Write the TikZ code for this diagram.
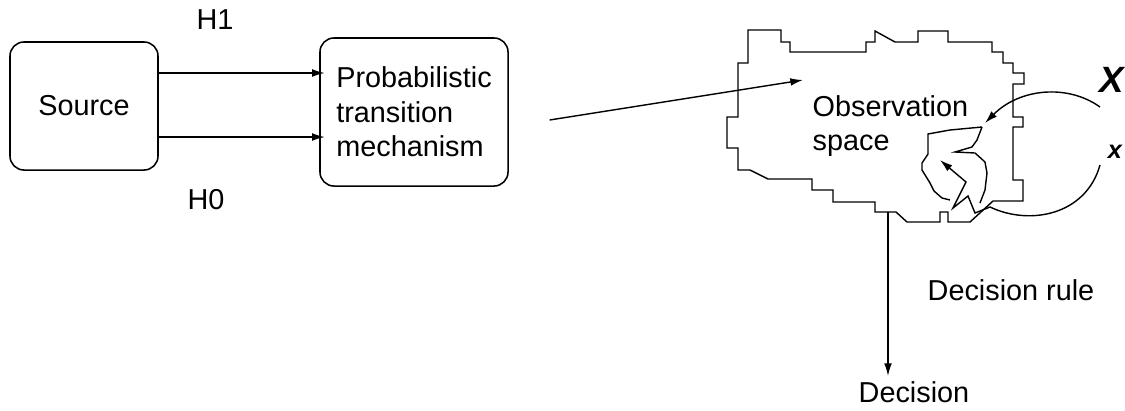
\documentclass[tikz,border=0pt]{standalone}
\usepackage{fontspec}
\setmainfont{Liberation Sans}
\usetikzlibrary{arrows.meta}
\begin{document}
\begin{tikzpicture}[x=0.025cm,y=-0.025cm,line width=1pt,
  every node/.style={font=\fontsize{20.5}{24.5}\selectfont},
  block/.style={draw,rounded corners=0.35cm,line width=1.1pt},
  arr/.style={-{Latex[length=9pt,width=5.5pt]}}]
\useasboundingbox (0,0) rectangle (1125,410);
\node[block,minimum width=3.7cm,minimum height=3.2cm] (src) at (84,106) {Source};
\node[block,minimum width=4.7cm,minimum height=3.7cm,align=left] (ptm) at (414,112) {Probabilistic\\transition\\mechanism};
\draw[arr,shorten >=-4pt] ([yshift=0.825cm]src.east) -- ([yshift=0.825cm]src.east -| ptm.west);
\draw[arr,shorten >=-4pt] ([yshift=-0.775cm]src.east) -- ([yshift=-0.775cm]src.east -| ptm.west);
\node (h1) at (215,20) {H1};
\node (h0) at (206,200) {H0};
\draw (748,30) -- (781,30) -- (781,42) -- (790,42) -- (790,52) -- (866,52) -- (866,42) -- (875,42) -- (875,31)
  -- (895,42) -- (918,42) -- (918,31) -- (948,31) -- (948,42) -- (992,42) -- (992,52) -- (1003,52) -- (1003,63)
  -- (1013,63) -- (1013,73) -- (1024,73) -- (1024,84) -- (1013,84) -- (1013,117) -- (1023,117) -- (1023,127)
  -- (1013,127) -- (1013,180) -- (1023,180) -- (1023,201) -- (993,201) -- (970,222) -- (948,222) -- (948,212)
  -- (940,212) -- (940,222) -- (907,222) -- (896,212) -- (875,212) -- (875,202) -- (833,202) -- (833,190)
  -- (812,190) -- (812,179) -- (768,179) -- (750,170) -- (738,170) -- (738,148) -- (727,148) -- (727,117)
  -- (738,117) -- (738,63) -- (748,63) -- cycle;
\draw (982,127) -- (950,130) -- (928,134) -- (928,154) -- (922,163) -- (922,170) -- (930,183) -- (934,191) -- (942,198) -- (950,200);
\draw (982,127) -- (977,140) -- (972,147) -- (955,152) -- (975,153) -- (985,162) -- (987,173) -- (985,190) -- (980,203);
\coordinate (obsin) at (803,80);
\draw[arr] ([xshift=1.02cm,yshift=-0.2cm]ptm.east) -- (obsin);
\node[align=left,anchor=west,inner sep=0] (obs) at (812,126) {Observation\\space};
\node (bigx) at (1112,80) {\fontsize{26}{30}\selectfont\bfseries\itshape X};
\node (smallx) at (1115,152) {\fontsize{18}{20}\selectfont\bfseries\itshape x};
\draw[arr] (1100,107) .. controls (1068,84) and (1020,88) .. (985,123);
\draw[arr] (1100,165) .. controls (1086,215) and (1030,226) .. (990,207) -- (975,213) -- (968,196) -- (953,208) -- (966,182) -- (940,160);
\node (rule) at (1011,290) {Decision rule};
\node (dec) at (914,392) {Decision};
\coordinate (bl) at (888,212);
\draw[arr] (bl) -- (bl |- dec.north);
\end{tikzpicture}
\end{document}
